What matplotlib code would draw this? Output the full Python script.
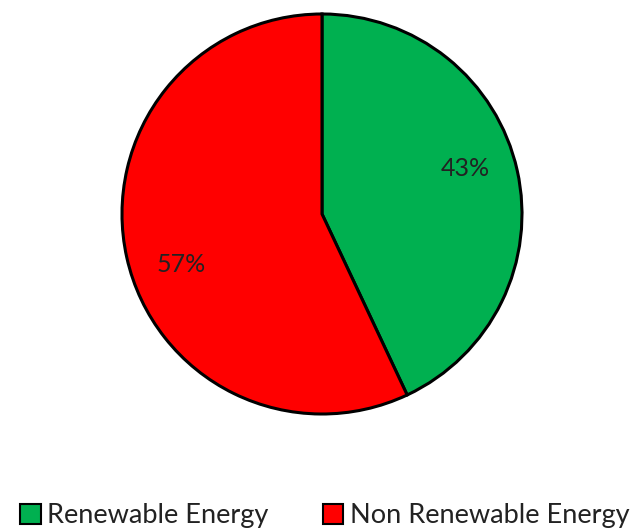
import numpy as np
import matplotlib
matplotlib.use("Agg")
import matplotlib.pyplot as plt
from matplotlib.patches import Patch

labels = ["Renewable Energy", "Non Renewable Energy"]
values = [43, 57]
colors = ["#00B050", "#FF0000"]

plt.rcParams['font.family'] = ['Lato', 'DejaVu Sans']

fig = plt.figure(figsize=(6.41, 5.29), dpi=100)
ax = fig.add_axes([122/641, 115/529, 400/641, 400/529])
wedges, texts, autotexts = ax.pie(values, colors=colors, startangle=90, counterclock=False,
                                  autopct='%1.0f%%', pctdistance=0.75,
                                  wedgeprops=dict(edgecolor='black', linewidth=2.2, clip_on=False),
                                  textprops=dict(fontsize=18, color='#222222'))
# nudge labels slightly counterclockwise like the reference
for w, t, off in zip(wedges, autotexts, [5, 7]):
    ang = np.deg2rad((w.theta1 + w.theta2) / 2 + off)
    t.set_position((0.75 * np.cos(ang), 0.75 * np.sin(ang)))
ax.set_xlim(-1.0, 1.0)
ax.set_ylim(-1.0, 1.0)
ax.set_aspect('equal')
ax.axis('off')

handles = [Patch(facecolor=c, edgecolor='black', linewidth=1.5) for c in colors]
fig.legend(handles, labels, loc='center', bbox_to_anchor=(325/641, 13/529), ncol=2,
           frameon=False, fontsize=19.5, handlelength=0.75, handleheight=0.75,
           handletextpad=0.25, columnspacing=2.0, labelcolor='#222222')

fig.savefig("out.png", dpi=100)
